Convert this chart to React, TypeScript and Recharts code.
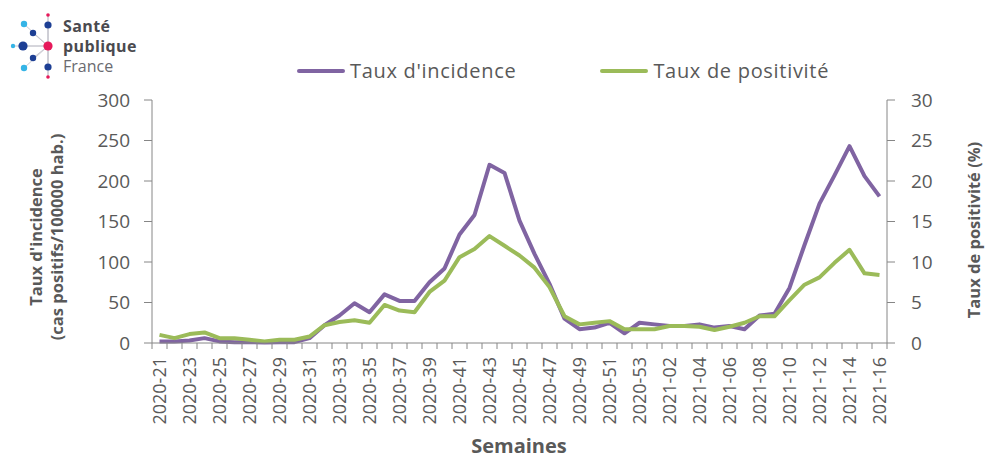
import React from "react";
import { Legend, Line, LineChart, XAxis, YAxis } from "recharts";

const weeks = [
  "2020-21", "2020-22", "2020-23", "2020-24", "2020-25", "2020-26", "2020-27", "2020-28",
  "2020-29", "2020-30", "2020-31", "2020-32", "2020-33", "2020-34", "2020-35", "2020-36",
  "2020-37", "2020-38", "2020-39", "2020-40", "2020-41", "2020-42", "2020-43", "2020-44",
  "2020-45", "2020-46", "2020-47", "2020-48", "2020-49", "2020-50", "2020-51", "2020-52",
  "2020-53", "2021-01", "2021-02", "2021-03", "2021-04", "2021-05", "2021-06", "2021-07",
  "2021-08", "2021-09", "2021-10", "2021-11", "2021-12", "2021-13", "2021-14", "2021-15",
  "2021-16",
];

// cas positifs / 100000 hab.
const incidence = [
  2, 2, 3, 6, 2, 1, 1, 0.5, 1, 1, 6, 22, 34, 49, 38, 60, 52, 52, 75, 92, 134, 158, 220, 210,
  151, 110, 73, 30, 17, 19, 25, 12, 25, 23, 21, 21, 23, 19, 21, 17, 34, 36, 68, 121, 172, 207,
  243, 206, 181,
];

// %
const positivity = [
  1.0, 0.6, 1.1, 1.3, 0.6, 0.6, 0.4, 0.2, 0.4, 0.4, 0.8, 2.2, 2.6, 2.8, 2.5, 4.7, 4.0, 3.8, 6.3,
  7.7, 10.6, 11.6, 13.2, 12.0, 10.8, 9.3, 6.9, 3.3, 2.3, 2.5, 2.7, 1.7, 1.7, 1.7, 2.1, 2.1, 2.0,
  1.6, 2.0, 2.5, 3.3, 3.3, 5.3, 7.2, 8.1, 9.9, 11.5, 8.6, 8.4,
];

const incidenceTicks = [0, 50, 100, 150, 200, 250, 300];
const positivityTicks = [0, 5, 10, 15, 20, 25, 30];

const PURPLE = "#8064a2";
const GREEN = "#9bbb59";
const TEXT = "#595959";
const AXIS = "#868686";
const FONT = "'Open Sans', sans-serif";

const data = weeks.map((week, i) => ({
  week,
  incidence: incidence[i],
  positivity: positivity[i],
}));

function WeekTick(props: any) {
  const { x, y, payload, index } = props;
  const half = 7.5;
  const top = y - 6;
  const ly = y + 8;
  return (
    <g>
      <line x1={x - half} x2={x - half} y1={top} y2={top + 6} stroke={AXIS} />
      {index === weeks.length - 1 && (
        <line x1={x + half} x2={x + half} y1={top} y2={top + 6} stroke={AXIS} />
      )}
      {index % 2 === 0 && (
        <text
          x={x}
          y={ly}
          dy="0.35em"
          textAnchor="end"
          transform={`rotate(-90, ${x}, ${ly})`}
          fill={TEXT}
          fontSize={18}
          fontFamily={FONT}
        >
          {payload.value}
        </text>
      )}
    </g>
  );
}

function LegendContent({ payload }: any) {
  return (
    <div
      style={{
        display: "flex",
        alignItems: "center",
        fontFamily: FONT,
        fontSize: 20,
        letterSpacing: 0.7,
        color: TEXT,
      }}
    >
      {(payload || []).map((p: any, i: number) => (
        <div key={p.value} style={{ display: "flex", alignItems: "center", marginRight: i === 0 ? 84 : 0 }}>
          <span style={{ width: 48, height: 4, background: p.color, borderRadius: 2, marginRight: 5 }} />
          <span style={{ whiteSpace: "nowrap" }}>{p.value}</span>
        </div>
      ))}
    </div>
  );
}

function Logo() {
  const dots = [
    { cx: 48, cy: 15, r: 1.8, c: "#e6195a" },
    { cx: 48, cy: 25, r: 3.6, c: "#1d3f94" },
    { cx: 24, cy: 24, r: 3.2, c: "#35b4e6" },
    { cx: 33, cy: 33, r: 3.2, c: "#1d3f94" },
    { cx: 13, cy: 46, r: 2.2, c: "#35b4e6" },
    { cx: 23, cy: 46, r: 4.6, c: "#1d3f94" },
    { cx: 48, cy: 46, r: 4.6, c: "#e6195a" },
    { cx: 33, cy: 58, r: 3.2, c: "#1d3f94" },
    { cx: 24, cy: 68, r: 3.2, c: "#35b4e6" },
    { cx: 48, cy: 67, r: 3.6, c: "#1d3f94" },
    { cx: 48, cy: 77, r: 1.8, c: "#e6195a" },
  ];
  return (
    <g>
      <line x1={48} x2={48} y1={15} y2={77} stroke="#c8c8d0" strokeWidth={1} />
      {dots.map((d, i) => (
        <line key={"l" + i} x1={48} y1={46} x2={d.cx} y2={d.cy} stroke="#c8c8d0" strokeWidth={1} />
      ))}
      {dots.map((d, i) => (
        <circle key={i} cx={d.cx} cy={d.cy} r={d.r} fill={d.c} />
      ))}
      <text x={63} y={32} fontFamily={FONT} fontWeight={700} fontSize={16} letterSpacing={0.4} fill="#4a4a4f">Santé</text>
      <text x={63} y={52} fontFamily={FONT} fontWeight={700} fontSize={16} letterSpacing={0.4} fill="#4a4a4f">publique</text>
      <text x={63} y={72} fontFamily={FONT} fontSize={16} fill="#6a6a70">France</text>
    </g>
  );
}

export default function App() {
  return (
    <div style={{ position: "absolute", left: 0, top: 0, width: 986, height: 459, background: "#fff" }}>
      <LineChart
        width={986}
        height={459}
        data={data}
        margin={{ top: 100, right: 39, bottom: 16, left: 92 }}
      >
        <XAxis
          dataKey="week"
          interval={0}
          height={100}
          padding={{ left: 7.5, right: 7.5 }}
          stroke={AXIS}
          tickLine={false}
          tickSize={6}
          tickMargin={0}
          tick={<WeekTick />}
        />
        <YAxis
          yAxisId="left"
          width={60}
          domain={[0, 300]}
          ticks={incidenceTicks}
          stroke={AXIS}
          tickSize={8}
          tickMargin={14}
          tick={{ fill: TEXT, fontSize: 19, fontFamily: FONT }}
        />
        <YAxis
          yAxisId="right"
          orientation="right"
          width={60}
          domain={[0, 30]}
          ticks={positivityTicks}
          stroke={AXIS}
          tickSize={8}
          tickMargin={16}
          tick={{ fill: TEXT, fontSize: 19, fontFamily: FONT }}
        />
        <Legend
          layout="vertical"
          verticalAlign="middle"
          align="center"
          wrapperStyle={{ top: 57, left: 297, width: "auto" }}
          content={<LegendContent />}
        />
        <Line
          yAxisId="left"
          dataKey="incidence"
          name="Taux d'incidence"
          stroke={PURPLE}
          strokeWidth={4}
          strokeLinejoin="round"
          dot={false}
          isAnimationActive={false}
        />
        <Line
          yAxisId="right"
          dataKey="positivity"
          name="Taux de positivité"
          stroke={GREEN}
          strokeWidth={4}
          strokeLinejoin="round"
          dot={false}
          isAnimationActive={false}
        />
      </LineChart>
      <svg
        width={986}
        height={459}
        style={{ position: "absolute", left: 0, top: 0, pointerEvents: "none" }}
      >
        <Logo />
        <text
          transform="translate(0, 237) rotate(-90)"
          textAnchor="middle"
          fontFamily={FONT}
          fontWeight={700}
          fontSize={16.5}
          fill={TEXT}
        >
          <tspan x={0} y={36} dy="0.35em">Taux d'incidence</tspan>
          <tspan x={0} y={57} dy="0.35em">(cas positifs/100000 hab.)</tspan>
        </text>
        <text
          transform="translate(974, 230) rotate(-90)"
          textAnchor="middle"
          dy="0.35em"
          fontFamily={FONT}
          fontWeight={700}
          fontSize={16.5}
          fill={TEXT}
        >
          Taux de positivité (%)
        </text>
        <text
          x={519}
          y={446}
          dy="0.35em"
          textAnchor="middle"
          fontFamily={FONT}
          fontWeight={700}
          fontSize={20}
          fill={TEXT}
        >
          Semaines
        </text>
      </svg>
    </div>
  );
}
